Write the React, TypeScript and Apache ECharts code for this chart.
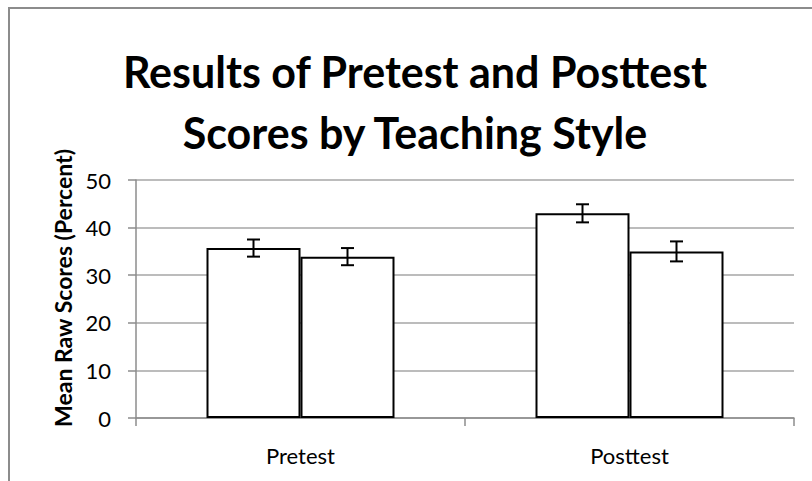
import React, { useEffect, useRef } from "react";
import * as echarts from "echarts";

const categories = ["Pretest", "Posttest"];
const seriesA = [35.7, 43.0];
const seriesB = [33.9, 35.0];
const errorsA = [1.8, 1.9];
const errorsB = [1.8, 2.1];
const yTicks = { min: 0, max: 50, interval: 10 };
const titleLines = ["Results of Pretest and Posttest", "Scores by Teaching Style"];
const yAxisTitle = "Mean Raw Scores (Percent)";

const BAR_W = 94;

export default function App() {
  const ref = useRef<HTMLDivElement>(null);
  useEffect(() => {
    if (!ref.current) return;
    const chart = echarts.init(ref.current, undefined, { renderer: "svg" });
    const errData: any[] = [];
    categories.forEach((_, i) => {
      errData.push([i, seriesA[i], errorsA[i], -1]);
      errData.push([i, seriesB[i], errorsB[i], 1]);
    });
    const font = "Lato, 'Open Sans', sans-serif";
    chart.setOption({
      animation: false,
      backgroundColor: "#ffffff",
      title: {
        text: titleLines.join("\n"),
        left: 410,
        top: 36,
        textAlign: "center",
        textStyle: {
          fontFamily: font,
          fontWeight: "bold",
          fontSize: 43,
          lineHeight: 61,
          color: "#000",
        },
      },
      graphic: [
        {
          type: "rect",
          shape: { x: 9, y: 8, width: 900, height: 700 },
          style: { fill: "none", stroke: "#8c8c8c", lineWidth: 2 },
          silent: true,
        },
        {
          type: "text",
          x: 63,
          y: 288,
          rotation: Math.PI / 2,
          style: {
            text: yAxisTitle,
            fontFamily: font,
            fontWeight: "bold",
            fontSize: 23,
            fill: "#000",
            align: "center",
            verticalAlign: "middle",
          },
        },
      ],
      grid: { left: 136, top: 180, right: 18, bottom: 63, containLabel: false },
      xAxis: {
        type: "category",
        data: categories,
        axisLine: { lineStyle: { color: "#8c8c8c", width: 1.5 } },
        axisTick: { show: true, length: 8, lineStyle: { color: "#8c8c8c", width: 1.5 } },
        axisLabel: { color: "#000", fontFamily: font, fontSize: 22, margin: 26 },
      },
      yAxis: {
        type: "value",
        min: yTicks.min,
        max: yTicks.max,
        interval: yTicks.interval,
        axisLine: { show: true, lineStyle: { color: "#8c8c8c", width: 1.5 } },
        axisTick: { show: true, length: 8, lineStyle: { color: "#8c8c8c", width: 1.5 } },
        axisLabel: { color: "#000", fontFamily: font, fontSize: 22, margin: 25 },
        splitLine: { lineStyle: { color: "#a6a6a6", width: 1.5 } },
      },
      series: [
        {
          type: "bar",
          data: seriesA,
          barWidth: BAR_W,
          barGap: "0%",
          itemStyle: { color: "#ffffff", borderColor: "#000", borderWidth: 2 },
        },
        {
          type: "bar",
          data: seriesB,
          barWidth: BAR_W,
          barGap: "0%",
          itemStyle: { color: "#ffffff", borderColor: "#000", borderWidth: 2 },
        },
        {
          type: "custom",
          data: errData,
          z: 10,
          renderItem: (params: any, api: any) => {
            const x = api.value(0);
            const v = api.value(1);
            const e = api.value(2);
            const side = api.value(3);
            const top = api.coord([x, v + e]);
            const bot = api.coord([x, v - e]);
            const cx = top[0] + (side * BAR_W) / 2;
            const cap = 6.5;
            const st = { stroke: "#000", lineWidth: 2 };
            return {
              type: "group",
              children: [
                { type: "line", shape: { x1: cx, y1: top[1], x2: cx, y2: bot[1] }, style: st },
                { type: "line", shape: { x1: cx - cap, y1: top[1], x2: cx + cap, y2: top[1] }, style: st },
                { type: "line", shape: { x1: cx - cap, y1: bot[1], x2: cx + cap, y2: bot[1] }, style: st },
              ],
            };
          },
        },
      ],
    });
    return () => chart.dispose();
  }, []);
  return (
    <div
      ref={ref}
      style={{ position: "fixed", left: 0, top: 0, width: 812, height: 481 }}
    />
  );
}
